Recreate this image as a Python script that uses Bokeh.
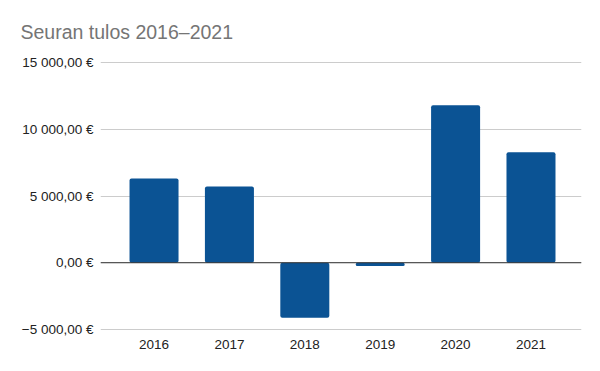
from bokeh.plotting import figure
from bokeh.models import ColumnDataSource, FixedTicker, Range1d, Span
from bokeh.embed import file_html
from bokeh.resources import INLINE

# ---- data ----
years = ["2016", "2017", "2018", "2019", "2020", "2021"]
results = [6320, 5720, -4120, -250, 11800, 8280]
y_ticks = [-5000, 0, 5000, 10000, 15000]
y_tick_labels = ["\u22125 000,00 \u20ac", "0,00 \u20ac", "5 000,00 \u20ac", "10 000,00 \u20ac", "15 000,00 \u20ac"]
title_text = "Seuran tulos 2016\u20132021"

BAR = "#0b5394"
FONT = "Liberation Sans"

idx = list(range(len(years)))
src = ColumnDataSource(dict(x=idx, top=results))

p = figure(width=584, height=355, output_backend="svg", toolbar_location=None,
           x_range=Range1d(-0.71, 5.67), y_range=Range1d(-5150, 15150),
           min_border_left=100, min_border_right=3, min_border_top=60, min_border_bottom=24)
p.frame_width = 481
p.frame_height = 271
p.outline_line_color = None
p.background_fill_color = "white"

p.vbar(x="x", top="top", bottom=0, width=0.65, source=src,
       fill_color=BAR, line_color=None, border_radius=2)

p.add_layout(Span(location=0, dimension="width", line_color="#333333", line_width=1))

p.title.text = title_text
p.title.align = "left"
p.title.offset = -80
p.title.standoff = 36
p.title.text_font = FONT
p.title.text_font_size = "19.5px"
p.title.text_font_style = "normal"
p.title.text_color = "#757575"

p.xaxis.ticker = FixedTicker(ticks=idx)
p.xaxis.major_label_overrides = {i: y for i, y in zip(idx, years)}
p.yaxis.ticker = FixedTicker(ticks=y_ticks)
p.yaxis.major_label_overrides = {t: l for t, l in zip(y_ticks, y_tick_labels)}

for ax in (p.xaxis, p.yaxis):
    ax.axis_line_color = None
    ax.major_tick_line_color = None
    ax.minor_tick_line_color = None
    ax.major_tick_out = 0
    ax.major_tick_in = 0
    ax.major_label_text_font = FONT
    ax.major_label_text_font_size = "13.5px"
    ax.major_label_text_color = "#222222"
p.yaxis.major_label_standoff = 7
p.xaxis.major_label_standoff = 8

p.xgrid.grid_line_color = None
p.ygrid.grid_line_color = "#cccccc"
p.ygrid.ticker = FixedTicker(ticks=y_ticks)

open("out.html", "w").write(file_html(p, INLINE))
